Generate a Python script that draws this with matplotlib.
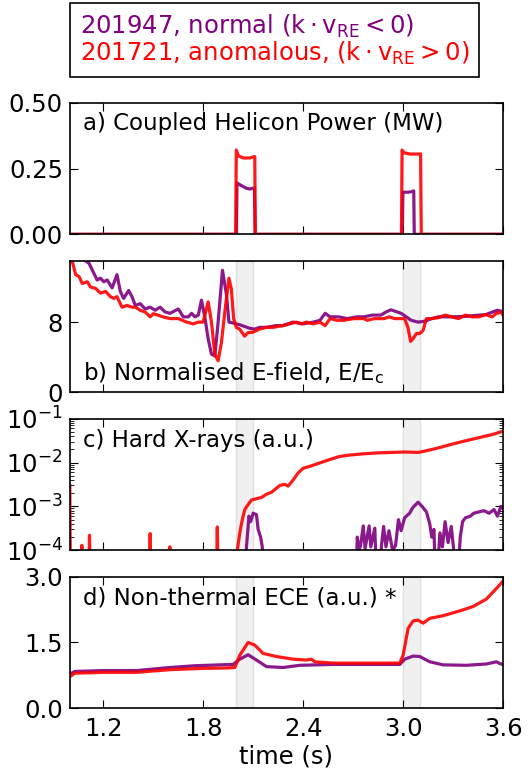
import matplotlib
matplotlib.use("Agg")
import matplotlib.pyplot as plt
from matplotlib.ticker import FixedLocator, LogLocator, NullFormatter

# shot labels and colours
shot_normal = "201947, normal ($\\mathregular{k\\cdot v_{RE} < 0}$)"
shot_anom = "201721, anomalous, ($\\mathregular{k\\cdot v_{RE} > 0}$)"
c_normal = "purple"
c_anom = "red"

# helicon pulse windows (s)
pulse_windows = [(2.0, 2.1), (3.0, 3.1)]

# a) coupled helicon power (MW)
pow_t_n = [1.0, 2.0, 2.003, 2.03, 2.06, 2.08, 2.1, 2.108, 2.112, 2.995, 2.999, 3.03, 3.05, 3.064, 3.067, 3.6]
pow_n = [0.0, 0.0, 0.195, 0.185, 0.175, 0.172, 0.175, 0.175, 0.0, 0.0, 0.16, 0.16, 0.162, 0.165, 0.0, 0.0]
pow_t_a = [1.0, 1.995, 1.999, 2.012, 2.04, 2.08, 2.105, 2.11, 2.113, 2.99, 2.994, 3.005, 3.04, 3.08, 3.105, 3.109, 3.6]
pow_a = [0.0, 0.0, 0.32, 0.298, 0.29, 0.29, 0.295, 0.295, 0.0, 0.0, 0.32, 0.31, 0.305, 0.305, 0.305, 0.0, 0.0]

# b) normalised E-field E/Ec
ef_t_n = [1.0, 1.085, 1.115, 1.164, 1.184, 1.204, 1.224, 1.254, 1.283, 1.303, 1.323, 1.353, 1.373,
          1.393, 1.423, 1.452, 1.482, 1.512, 1.542, 1.572, 1.602, 1.651, 1.681, 1.711, 1.731, 1.751,
          1.771, 1.790, 1.810, 1.830, 1.850, 1.870, 1.890, 1.916, 1.940, 1.955, 1.979, 2.019, 2.079,
          2.109, 2.138, 2.178, 2.238, 2.278, 2.339, 2.40, 2.461, 2.501, 2.532, 2.562, 2.613, 2.664,
          2.725, 2.765, 2.816, 2.867, 2.897, 2.927, 2.958, 2.988, 3.019, 3.049, 3.090, 3.130, 3.171,
          3.211, 3.292, 3.374, 3.455, 3.495, 3.536, 3.566, 3.60]
ef_n = [16.5, 15.1, 14.7, 12.8, 13.0, 12.6, 12.8, 11.9, 13.4, 11.5, 10.7, 11.6, 10.9,
        9.9, 10.1, 9.5, 9.7, 9.35, 9.7, 9.15, 9.0, 9.5, 8.6, 8.6, 9.0, 8.6,
        8.8, 10.5, 8.6, 6.1, 4.35, 4.15, 8.0, 13.9, 11.1, 8.0, 7.9, 7.7, 7.3,
        7.2, 7.4, 7.4, 7.6, 7.6, 8.0, 7.8, 8.0, 8.2, 9.0, 8.6, 8.6, 8.4,
        8.6, 8.6, 8.8, 8.8, 9.15, 9.4, 9.2, 9.0, 8.6, 8.2, 8.0, 8.1, 8.4,
        8.6, 8.6, 8.65, 8.8, 8.85, 9.15, 9.35, 9.2]
ef_t_a = [1.0, 1.035, 1.055, 1.075, 1.105, 1.124, 1.154, 1.184, 1.214, 1.244, 1.264, 1.283, 1.313,
          1.343, 1.373, 1.393, 1.423, 1.452, 1.482, 1.502, 1.532, 1.562, 1.602, 1.651, 1.701, 1.741,
          1.771, 1.800, 1.830, 1.850, 1.870, 1.890, 1.910, 1.930, 1.955, 1.969, 1.983, 1.999, 2.019,
          2.049, 2.069, 2.099, 2.138, 2.178, 2.218, 2.278, 2.319, 2.359, 2.390, 2.420, 2.461, 2.501,
          2.532, 2.562, 2.603, 2.643, 2.704, 2.765, 2.785, 2.826, 2.887, 2.917, 2.948, 3.009, 3.029,
          3.045, 3.059, 3.080, 3.100, 3.120, 3.140, 3.171, 3.211, 3.252, 3.292, 3.333, 3.374, 3.414,
          3.455, 3.495, 3.536, 3.556, 3.587, 3.60]
ef_a = [16.0, 13.4, 13.2, 12.4, 12.6, 12.0, 11.85, 11.3, 11.5, 10.9, 10.7, 10.9, 9.7,
        9.9, 9.7, 9.7, 9.35, 9.15, 8.6, 8.96, 8.77, 8.58, 8.4, 8.4, 8.0, 7.8,
        8.0, 8.0, 10.3, 8.0, 4.35, 3.6, 5.7, 9.15, 13.0, 11.8, 8.4, 7.4, 7.2,
        6.4, 6.8, 6.85, 7.2, 7.4, 7.4, 7.6, 7.8, 8.0, 7.8, 8.0, 7.8, 8.0,
        7.6, 8.4, 8.2, 8.2, 8.4, 8.4, 8.2, 8.4, 8.4, 8.6, 8.4, 8.4, 7.4,
        5.8, 6.1, 6.7, 6.7, 7.05, 8.4, 8.4, 8.5, 8.8, 8.6, 8.4, 8.8, 8.6,
        8.6, 8.85, 8.6, 8.95, 9.15, 8.8]

# c) hard X-rays (a.u.), 1e-5 marks signal below the plotted range
hxr_t_n = [2.05, 2.06, 2.075, 2.085, 2.10, 2.12, 2.13, 2.145, 2.155, 2.162,
           2.714, 2.725, 2.735, 2.745, 2.761, 2.772, 2.796, 2.806, 2.830, 2.845, 2.872, 2.883, 2.897,
           2.915, 2.937, 2.955, 2.972, 2.988, 3.009, 3.039, 3.059, 3.09, 3.114, 3.14, 3.16, 3.172,
           3.185, 3.197, 3.221, 3.236, 3.252, 3.27, 3.289, 3.302, 3.322, 3.343, 3.357, 3.374, 3.404,
           3.424, 3.455, 3.485, 3.516, 3.546, 3.566, 3.587, 3.60]
hxr_n = [1e-5, 1.2e-4, 6e-4, 4.5e-4, 7e-4, 6.5e-4, 3e-4, 2e-4, 1.2e-4, 1e-5,
         1e-5, 2e-4, 1e-4, 1.3e-4, 3.6e-4, 1.1e-4, 3.6e-4, 1.2e-4, 3.2e-4, 1e-5, 1.5e-4, 3.5e-4, 1.2e-4,
         2.8e-4, 1.0e-4, 1.3e-4, 5e-4, 2.8e-4, 5.5e-4, 7e-4, 9.5e-4, 1.25e-3, 1e-3, 7.5e-4, 4e-4, 2e-4,
         3e-4, 1e-5, 2.5e-4, 1.2e-4, 4.5e-4, 1.5e-4, 3.5e-4, 1.2e-4, 1e-5, 2e-4, 4.5e-4, 5.5e-4, 6e-4,
         7e-4, 7.5e-4, 8e-4, 7e-4, 8.5e-4, 6e-4, 1e-3, 9e-4]
hxr_t_a = [1.0, 1.004, 1.065, 1.072, 1.079, 1.112, 1.118, 1.125, 1.475, 1.482, 1.489, 1.595, 1.60,
           1.605, 1.878, 1.885, 1.892, 1.995, 2.005, 2.02, 2.035, 2.05, 2.07, 2.09, 2.12, 2.15, 2.18,
           2.21, 2.24, 2.26, 2.29, 2.31, 2.34, 2.37, 2.40, 2.44, 2.50, 2.56, 2.62, 2.68, 2.76, 2.85,
           2.93, 3.01, 3.09, 3.13, 3.21, 3.29, 3.37, 3.45, 3.54, 3.60]
hxr_a = [3e-3, 1e-5, 1e-5, 1.3e-4, 1e-5, 1e-5, 2.2e-4, 1e-5, 1e-5, 2.4e-4, 1e-5, 1e-5, 1.2e-4,
         1e-5, 1e-5, 3.4e-4, 1e-5, 1e-5, 1e-4, 2.5e-4, 5e-4, 8.5e-4, 1.1e-3, 1.4e-3, 1.5e-3, 1.6e-3, 1.9e-3,
         2.1e-3, 2.6e-3, 3e-3, 3.2e-3, 2.9e-3, 4e-3, 5.8e-3, 7.4e-3, 8.2e-3, 9.8e-3, 1.17e-2, 1.38e-2, 1.48e-2, 1.58e-2, 1.66e-2,
         1.7e-2, 1.74e-2, 1.7e-2, 1.82e-2, 2.15e-2, 2.6e-2, 3.1e-2, 3.65e-2, 4.4e-2, 5.2e-2]

# d) non-thermal ECE (a.u.)
ece_t_n = [1.0, 1.03, 1.2, 1.4, 1.6, 1.75, 1.9, 1.98, 2.02, 2.07, 2.12, 2.18, 2.28, 2.38, 2.58,
           2.78, 2.98, 3.01, 3.06, 3.10, 3.16, 3.24, 3.38, 3.50, 3.56, 3.58, 3.60]
ece_n = [0.78, 0.84, 0.86, 0.86, 0.93, 0.97, 0.99, 1.0, 1.12, 1.22, 1.10, 0.95, 0.93, 0.98, 1.0,
         1.0, 1.0, 1.12, 1.19, 1.18, 1.06, 0.99, 0.98, 1.01, 1.06, 1.02, 1.0]
ece_t_a = [1.0, 1.03, 1.2, 1.4, 1.6, 1.8, 1.95, 1.99, 2.02, 2.07, 2.11, 2.16, 2.24, 2.34, 2.42,
           2.45, 2.47, 2.58, 2.78, 2.98, 3.0, 3.03, 3.06, 3.09, 3.12, 3.16, 3.24, 3.34, 3.42,
           3.50, 3.56, 3.60]
ece_a = [0.72, 0.80, 0.82, 0.82, 0.88, 0.91, 0.92, 0.93, 1.21, 1.50, 1.44, 1.25, 1.18, 1.12, 1.10,
         1.12, 1.06, 1.03, 1.03, 1.03, 1.21, 1.82, 1.99, 2.01, 1.94, 2.05, 2.11, 2.22, 2.32,
         2.49, 2.73, 2.9]

plt.rcParams.update({
    "font.size": 16.5,
    "xtick.labelsize": 17.5,
    "ytick.labelsize": 17.5,
    "axes.labelsize": 17.5,
    "axes.linewidth": 1.2,
    "xtick.direction": "in",
    "ytick.direction": "in",
    "xtick.top": True,
    "ytick.right": True,
    "xtick.major.size": 6,
    "ytick.major.size": 6,
    "xtick.minor.size": 3,
    "ytick.minor.size": 3,
    "xtick.major.pad": 6,
    "ytick.major.pad": 5,
    "mathtext.default": "regular",
})

fig, axs = plt.subplots(4, 1, sharex=True, figsize=(5.29, 7.72), dpi=100)
fig.subplots_adjust(left=0.132, right=0.951, bottom=0.0825, top=0.867, hspace=0.2)
lw = 2.3

ax = axs[0]
ax.plot(pow_t_n, pow_n, color=c_normal, lw=lw, alpha=0.9, label=shot_normal)
ax.plot(pow_t_a, pow_a, color=c_anom, lw=lw, alpha=0.9, label=shot_anom)
ax.set_ylim(0, 0.5)
ax.yaxis.set_major_locator(FixedLocator([0, 0.25, 0.5]))
ax.set_yticklabels(["0.00", "0.25", "0.50"])
ax.text(0.03, 0.845, "a) Coupled Helicon Power (MW)", transform=ax.transAxes, va="center")

ax = axs[1]
ax.plot(ef_t_n, ef_n, color=c_normal, lw=lw, alpha=0.9)
ax.plot(ef_t_a, ef_a, color=c_anom, lw=lw, alpha=0.9)
ax.set_ylim(0, 15)
ax.yaxis.set_major_locator(FixedLocator([0, 8]))
ax.text(0.03, 0.15, "b) Normalised E-field, E/E$_c$", transform=ax.transAxes, va="center")

ax = axs[2]
ax.plot(hxr_t_n, hxr_n, color=c_normal, lw=lw, alpha=0.9)
ax.plot(hxr_t_a, hxr_a, color=c_anom, lw=lw, alpha=0.9)
ax.set_yscale("log")
ax.set_ylim(1e-4, 1e-1)
ax.yaxis.set_major_locator(LogLocator(base=10, numticks=10))
ax.yaxis.set_minor_locator(LogLocator(base=10, subs=range(2, 10), numticks=10))
ax.yaxis.set_minor_formatter(NullFormatter())
ax.text(0.03, 0.835, "c) Hard X-rays (a.u.)", transform=ax.transAxes, va="center")

ax = axs[3]
ax.plot(ece_t_n, ece_n, color=c_normal, lw=lw, alpha=0.9)
ax.plot(ece_t_a, ece_a, color=c_anom, lw=lw, alpha=0.9)
ax.set_ylim(0, 3.0)
ax.yaxis.set_major_locator(FixedLocator([0, 1.5, 3.0]))
ax.set_yticklabels(["0.0", "1.5", "3.0"])
ax.text(0.03, 0.84, "d) Non-thermal ECE (a.u.) *", transform=ax.transAxes, va="center")
ax.set_xlabel("time (s)", labelpad=3)

for ax in axs[1:]:
    for t0, t1 in pulse_windows:
        ax.axvspan(t0, t1, facecolor="0.94", edgecolor="0.88", lw=1, zorder=0)

axs[-1].set_xlim(1.0, 3.6)
axs[-1].xaxis.set_major_locator(FixedLocator([1.2, 1.8, 2.4, 3.0, 3.6]))
axs[-1].set_xticklabels(["1.2", "1.8", "2.4", "3.0", "3.6"])

leg = fig.legend(loc="upper left", bbox_to_anchor=(0.132, 0.996), borderaxespad=0,
                 handlelength=0, handletextpad=0, fontsize=17.5, fancybox=False,
                 edgecolor="black", framealpha=1, labelcolor="linecolor",
                 borderpad=0.4, labelspacing=0.0)
for h in leg.legend_handles:
    h.set_visible(False)
leg.get_frame().set_linewidth(1.2)

fig.savefig("out.png", dpi=100)
